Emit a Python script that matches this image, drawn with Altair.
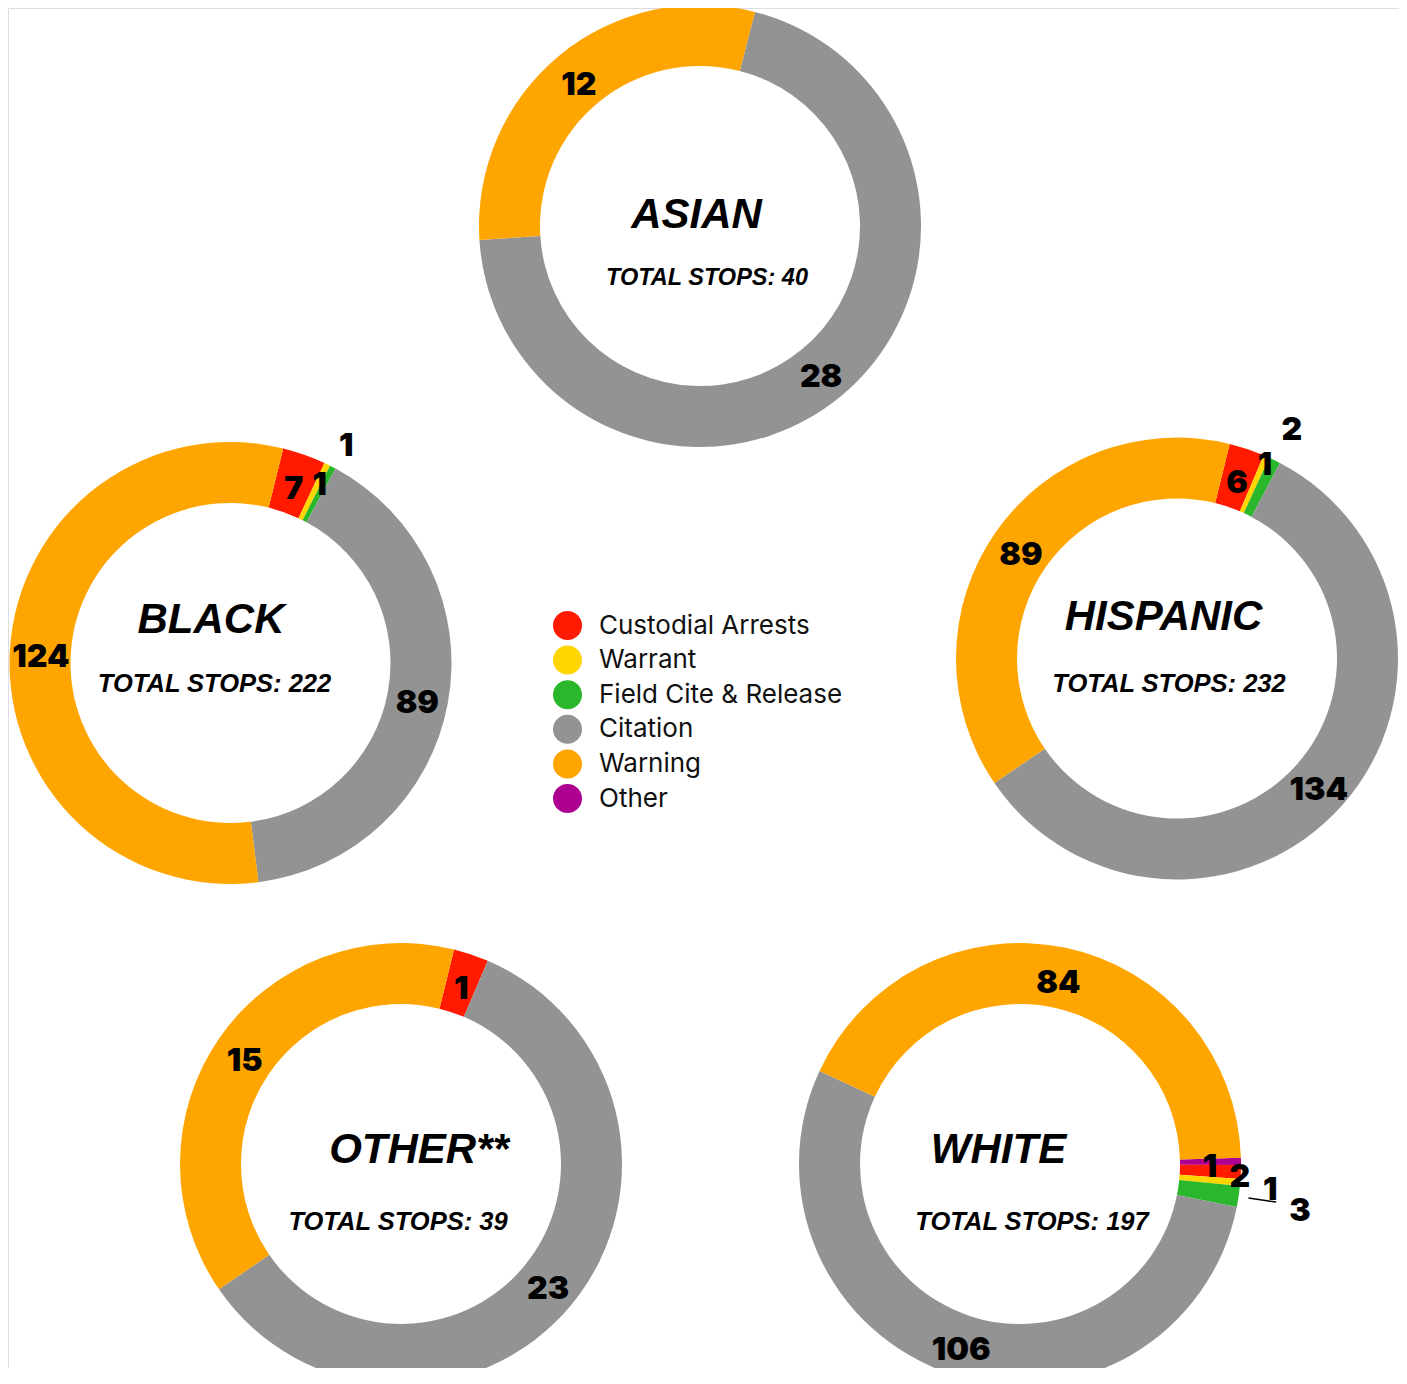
import math
import altair as alt
import pandas as pd

# ---------------- data ----------------
# stacking order (clockwise from each ring's start angle)
categories = ["Other", "Custodial Arrests", "Warrant", "Field Cite & Release", "Citation", "Warning"]
legend_order = ["Custodial Arrests", "Warrant", "Field Cite & Release", "Citation", "Warning", "Other"]
legend_colors = ["#FF1A00", "#FFD500", "#2BB72B", "#939393", "#FFA500", "#AE0090"]

groups = ["ASIAN", "BLACK", "HISPANIC", "OTHER**", "WHITE"]
asian = [0, 0, 0, 0, 28, 12]
black = [0, 7, 1, 1, 89, 124]
hispanic = [0, 6, 1, 2, 134, 89]
other = [0, 1, 0, 0, 23, 15]
white = [1, 2, 1, 3, 106, 84]
series = {"ASIAN": asian, "BLACK": black, "HISPANIC": hispanic, "OTHER**": other, "WHITE": white}

# ---------------- layout (chart pixel coords) ----------------
layout = {
    "ASIAN":    dict(cx=692, cy=218, start=14.4, tx=688.5, ty=220, sx=699, sy=277, ss=23.5),
    "BLACK":    dict(cx=222.5, cy=655, start=13.8, tx=203, ty=625, sx=206.5, sy=684, ss=25.5),
    "HISPANIC": dict(cx=1169, cy=650.5, start=13.8, tx=1155.5, ty=622, sx=1161, sy=684, ss=25.5),
    "OTHER**":  dict(cx=393, cy=1156, start=13.9, tx=411, ty=1155, sx=390, sy=1222, ss=25.5),
    "WHITE":    dict(cx=1012, cy=1156, start=88.4, tx=990.5, ty=1155, sx=1024, sy=1222, ss=25.5),
}
LABEL_R = 190
label_r_override = {
    ("BLACK", "Warrant"): 204, ("BLACK", "Field Cite & Release"): 250,
    ("HISPANIC", "Warrant"): 217, ("HISPANIC", "Field Cite & Release"): 260,
    ("WHITE", "Custodial Arrests"): 220, ("WHITE", "Warrant"): 251,
    ("WHITE", "Field Cite & Release"): 283,
}
INNER, OUTER = 160, 221

rows = []
for g in groups:
    for i, (c, v) in enumerate(zip(categories, series[g])):
        if v > 0:
            rows.append(dict(group=g, cat=c, count=v, ord=i,
                             lr=label_r_override.get((g, c), LABEL_R)))
df = pd.DataFrame(rows)
titles = pd.DataFrame({"group": groups,
                       "title": groups,
                       "sub": [f"TOTAL STOPS: {sum(series[g])}" for g in groups]})

color = alt.Color("cat:N",
                  scale=alt.Scale(domain=legend_order, range=legend_colors),
                  legend=alt.Legend(title=None, orient="none", legendX=545, legendY=603,
                                    symbolType="circle", symbolSize=841, symbolStrokeWidth=0,
                                    labelFont="Inter", labelFontSize=26, labelColor="#111111",
                                    labelOffset=17, labelLimit=500, rowPadding=5.6, padding=0))

sub_layers = []
for g in groups:
    L = layout[g]
    a0 = math.radians(L["start"])
    tscale = alt.Scale(range=[a0, a0 + 2 * math.pi])
    arc = alt.Chart(df).transform_filter(alt.datum.group == g).mark_arc(
        innerRadius=INNER, outerRadius=OUTER).encode(
        theta=alt.Theta("count:Q", stack=True, scale=tscale),
        order=alt.Order("ord:Q", sort="ascending"),
        x=alt.value(L["cx"]), y=alt.value(L["cy"]), color=color)
    lab = alt.Chart(df).transform_filter(alt.datum.group == g).transform_stack(
        stack="count", groupby=[], as_=["s0", "s1"],
        sort=[alt.SortField("ord", order="ascending")],
    ).transform_calculate(mid="(datum.s0 + datum.s1) / 2").mark_text(
        font="Inter", fontSize=32, fontWeight=900, color="#000000",
        align="center", baseline="middle", dy=5).encode(
        theta=alt.Theta("mid:Q", stack=None, scale=tscale),
        x=alt.value(L["cx"]), y=alt.value(L["cy"]),
        radius=alt.Radius("lr:Q", scale=None),
        text=alt.Text("count:Q"))
    tb = alt.Chart(titles).transform_filter(alt.datum.group == g)
    t1 = tb.mark_text(font="Liberation Sans", fontSize=42, fontWeight="bold", fontStyle="italic",
                      color="#000000", align="center", baseline="alphabetic").encode(
        x=alt.value(L["tx"]), y=alt.value(L["ty"]), text="title:N")
    t2 = tb.mark_text(font="Liberation Sans", fontSize=L["ss"], fontWeight="bold", fontStyle="italic",
                      color="#000000", align="center", baseline="alphabetic").encode(
        x=alt.value(L["sx"]), y=alt.value(L["sy"]), text="sub:N")
    parts = [arc, lab, t1, t2]
    if g == "WHITE":
        vals = series[g]
        total = sum(vals)
        k = categories.index("Field Cite & Release")
        mid = L["start"] + (sum(vals[:k]) + vals[k] / 2) / total * 360
        th = math.radians(mid)
        r1, r2 = 231, 259
        leader = tb.mark_rule(color="#000000", strokeWidth=1.5).encode(
            x=alt.value(L["cx"] + r1 * math.sin(th)), y=alt.value(L["cy"] - r1 * math.cos(th)),
            x2=alt.value(L["cx"] + r2 * math.sin(th)), y2=alt.value(L["cy"] - r2 * math.cos(th)))
        parts.append(leader)
    sub_layers.append(alt.layer(*parts))

chart = alt.layer(*sub_layers).resolve_scale(theta="independent").properties(
    width=1391, height=1360, padding=0,
    autosize=alt.AutoSizeParams(type="none"),
).configure_view(stroke=None, strokeWidth=0).configure(background="white")

chart.save("out.html", embed_options={"renderer": "svg", "actions": False})
